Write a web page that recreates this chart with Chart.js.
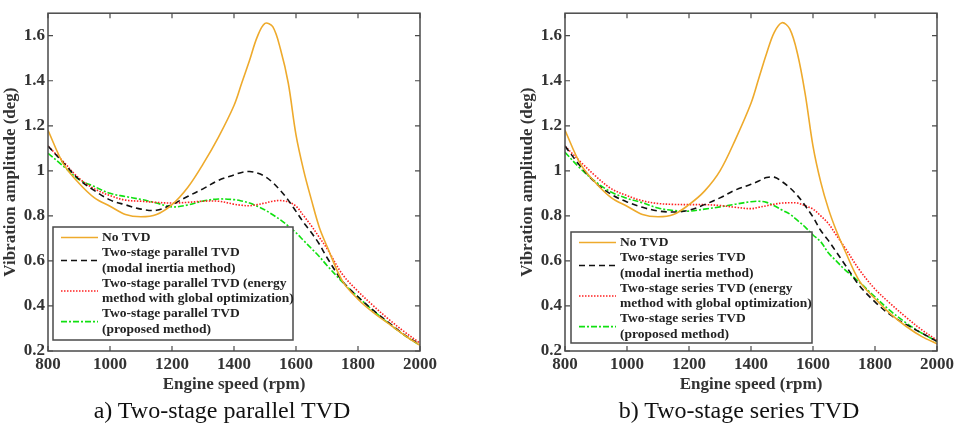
<!DOCTYPE html>
<html>
<head>
<meta charset="utf-8">
<script src="https://cdn.jsdelivr.net/npm/chart.js@4/dist/chart.umd.min.js"></script>
<style>
  body { margin: 0; background: #fff; width: 959px; height: 427px; position: relative; overflow: hidden; }
  .box { position: absolute; top: 0; width: 440px; height: 400px; }
  .cap { position: absolute; top: 397px; font: 24px "Liberation Serif", serif; color: #111; white-space: nowrap; transform: translateX(-50%); }
</style>
</head>
<body>
<div class="box" style="left:0px"><canvas id="chartA" width="440" height="400"></canvas></div>
<div class="box" style="left:517px"><canvas id="chartB" width="440" height="400"></canvas></div>
<div class="cap" style="left:222px">a) Two-stage parallel TVD</div>
<div class="cap" style="left:739px">b) Two-stage series TVD</div>
<script>
// engine speed grid (rpm), finer around the resonance peak
const rpm = [800, 850, 900, 950, 1000, 1050, 1100, 1150, 1200, 1250, 1300, 1350, 1400, 1425, 1450, 1475, 1500,
  1525, 1550, 1575, 1600, 1625, 1650, 1675, 1700, 1750, 1800, 1850, 1900, 1950, 2000];
const xTicks = [800, 1000, 1200, 1400, 1600, 1800, 2000];
const yTicks = [0.2, 0.4, 0.6, 0.8, 1, 1.2, 1.4, 1.6];

// a) parallel
const noTvdA = [1.18, 1.03, 0.945, 0.88, 0.843, 0.806, 0.796, 0.806, 0.85, 0.925, 1.03, 1.15, 1.29, 1.39, 1.49, 1.595, 1.655,
  1.64, 1.54, 1.39, 1.16, 1.0, 0.87, 0.75, 0.665, 0.51, 0.43, 0.37, 0.32, 0.27, 0.225];
const modalA = [1.11, 1.035, 0.962, 0.912, 0.871, 0.849, 0.83, 0.825, 0.85, 0.886, 0.92, 0.958, 0.982, 0.993, 0.997, 0.99, 0.975,
  0.948, 0.912, 0.87, 0.82, 0.77, 0.725, 0.675, 0.615, 0.51, 0.44, 0.38, 0.325, 0.272, 0.228];
const energyA = [1.11, 1.04, 0.967, 0.92, 0.89, 0.87, 0.865, 0.86, 0.857, 0.86, 0.865, 0.865, 0.852, 0.847, 0.845, 0.85, 0.857,
  0.865, 0.868, 0.862, 0.843, 0.80, 0.755, 0.705, 0.655, 0.54, 0.465, 0.4, 0.34, 0.285, 0.235];
const proposedA = [1.078, 1.02, 0.962, 0.93, 0.9, 0.886, 0.873, 0.857, 0.84, 0.848, 0.866, 0.875, 0.872, 0.866, 0.857, 0.843, 0.826,
  0.805, 0.782, 0.755, 0.725, 0.69, 0.655, 0.62, 0.58, 0.506, 0.44, 0.378, 0.322, 0.27, 0.225];

// b) series
const noTvdB = [1.18, 1.03, 0.945, 0.88, 0.843, 0.806, 0.796, 0.806, 0.85, 0.91, 1.0, 1.14, 1.30, 1.41, 1.52, 1.615, 1.658,
  1.63, 1.52, 1.34, 1.11, 0.95, 0.83, 0.735, 0.655, 0.51, 0.432, 0.365, 0.31, 0.265, 0.232];
const modalB = [1.11, 1.02, 0.945, 0.895, 0.862, 0.838, 0.822, 0.817, 0.825, 0.85, 0.88, 0.915, 0.94, 0.955, 0.97, 0.972, 0.952,
  0.925, 0.89, 0.845, 0.795, 0.735, 0.69, 0.64, 0.59, 0.49, 0.418, 0.36, 0.318, 0.28, 0.243];
const energyB = [1.11, 1.04, 0.975, 0.92, 0.89, 0.867, 0.855, 0.851, 0.85, 0.85, 0.846, 0.838, 0.832, 0.838, 0.845, 0.852, 0.857,
  0.858, 0.857, 0.845, 0.83, 0.8, 0.765, 0.715, 0.665, 0.56, 0.475, 0.41, 0.35, 0.295, 0.248];
const proposedB = [1.082, 1.01, 0.95, 0.905, 0.878, 0.858, 0.835, 0.824, 0.821, 0.83, 0.84, 0.852, 0.863, 0.865, 0.86, 0.845, 0.826,
  0.808, 0.78, 0.75, 0.715, 0.685, 0.635, 0.6, 0.565, 0.505, 0.44, 0.378, 0.325, 0.28, 0.243];

const styles = [
  { color: '#EEAA2C', dash: [] },
  { color: '#111111', dash: [6, 4] },
  { color: '#FF2020', dash: [1.5, 1.5] },
  { color: '#10E010', dash: [6, 2, 2, 2] }
];

const serif = '"Liberation Serif", "Times New Roman", serif';

// frame with inward ticks on all four sides + legend box inside the axes
const framePlugin = {
  id: 'frame',
  afterDraw(chart, args, opts) {
    const { ctx, chartArea: a, scales } = chart;
    ctx.save();
    ctx.strokeStyle = '#4a4a4a';
    ctx.lineWidth = 1.5;
    ctx.strokeRect(a.left, a.top, a.right - a.left, a.bottom - a.top);
    ctx.lineWidth = 1.2;
    ctx.beginPath();
    xTicks.forEach(v => {
      const x = scales.x.getPixelForValue(v);
      ctx.moveTo(x, a.bottom); ctx.lineTo(x, a.bottom - 5);
      ctx.moveTo(x, a.top); ctx.lineTo(x, a.top + 5);
    });
    yTicks.forEach(v => {
      const y = scales.y.getPixelForValue(v);
      ctx.moveTo(a.left, y); ctx.lineTo(a.left + 5, y);
      ctx.moveTo(a.right, y); ctx.lineTo(a.right - 5, y);
    });
    ctx.stroke();

    // legend
    const lg = opts.legend;
    const bx = a.left + lg.dx, by = lg.top;
    ctx.fillStyle = '#fff';
    ctx.fillRect(bx, by, lg.w, lg.h);
    ctx.lineWidth = 1.5;
    ctx.strokeStyle = '#4a4a4a';
    ctx.strokeRect(bx, by, lg.w, lg.h);
    ctx.font = 'bold 13.5px ' + serif;
    ctx.textBaseline = 'middle';
    ctx.fillStyle = '#222';
    let line = 0;
    lg.items.forEach((lines, i) => {
      const y0 = by + lg.first + line * lg.lh;
      const ys = y0 + (lines.length - 1) * lg.lh / 2;
      ctx.save();
      ctx.strokeStyle = styles[i].color;
      ctx.setLineDash(styles[i].dash);
      ctx.lineWidth = 1.6;
      ctx.beginPath();
      ctx.moveTo(bx + 8, ys); ctx.lineTo(bx + 45, ys);
      ctx.stroke();
      ctx.restore();
      lines.forEach((t, k) => ctx.fillText(t, bx + 49, y0 + k * lg.lh));
      line += lines.length;
    });
    ctx.restore();
  }
};

function makeChart(id, series, legendItems, legendTop, legendDx, legendW, legendH, padRight) {
  const ctx = document.getElementById(id).getContext('2d');
  return new Chart(ctx, {
    type: 'line',
    data: {
      labels: rpm,
      datasets: series.map((s, i) => ({
        data: s,
        borderColor: styles[i].color,
        borderDash: styles[i].dash,
        borderWidth: 1.6,
        pointRadius: 0,
        fill: false,
        tension: 0.35
      }))
    },
    options: {
      responsive: false,
      animation: false,
      devicePixelRatio: 1,
      layout: { padding: { top: 6, right: padRight, bottom: 0, left: 0 } },
      plugins: {
        legend: { display: false },
        tooltip: { enabled: false },
        frame: {
          legend: { items: legendItems, top: legendTop, dx: legendDx, w: legendW, h: legendH, first: 10.5, lh: 15.3 }
        }
      },
      scales: {
        x: {
          type: 'linear',
          min: 800, max: 2000,
          afterBuildTicks: s => { s.ticks = xTicks.map(v => ({ value: v })); },
          afterFit: s => { s.height = 49; },
          grid: { display: false, drawTicks: false, tickLength: 0 },
          border: { display: false },
          ticks: { padding: 3, color: '#333', font: { family: serif, size: 17, weight: 'bold' }, maxRotation: 0,
            callback: v => String(v) },
          title: { display: true, text: 'Engine speed (rpm)', color: '#333', padding: { top: 0, bottom: 5 },
            font: { family: serif, size: 17, weight: 'bold' } }
        },
        y: {
          min: 0.2, max: 1.7,
          afterBuildTicks: s => { s.ticks = yTicks.map(v => ({ value: v })); },
          afterFit: s => { s.width = 48; },
          grid: { display: false, drawTicks: false, tickLength: 0 },
          border: { display: false },
          ticks: { padding: 3, color: '#333', font: { family: serif, size: 17, weight: 'bold' },
            callback: v => String(v) },
          title: { display: true, text: 'Vibration amplitude (deg)', color: '#333', padding: { top: 0, bottom: 2 },
            font: { family: serif, size: 17, weight: 'bold' } }
        }
      }
    },
    plugins: [framePlugin]
  });
}

makeChart('chartA', [noTvdA, modalA, energyA, proposedA], [
  ['No TVD'],
  ['Two-stage parallel TVD', '(modal inertia method)'],
  ['Two-stage parallel TVD (energy', 'method with global optimization)'],
  ['Two-stage parallel TVD', '(proposed method)']
], 227, 5, 240, 113, 14);

makeChart('chartB', [noTvdB, modalB, energyB, proposedB], [
  ['No TVD'],
  ['Two-stage series TVD', '(modal inertia method)'],
  ['Two-stage series TVD (energy', 'method with global optimization)'],
  ['Two-stage series TVD', '(proposed method)']
], 232, 6, 241, 111, 15);
</script>
</body>
</html>
